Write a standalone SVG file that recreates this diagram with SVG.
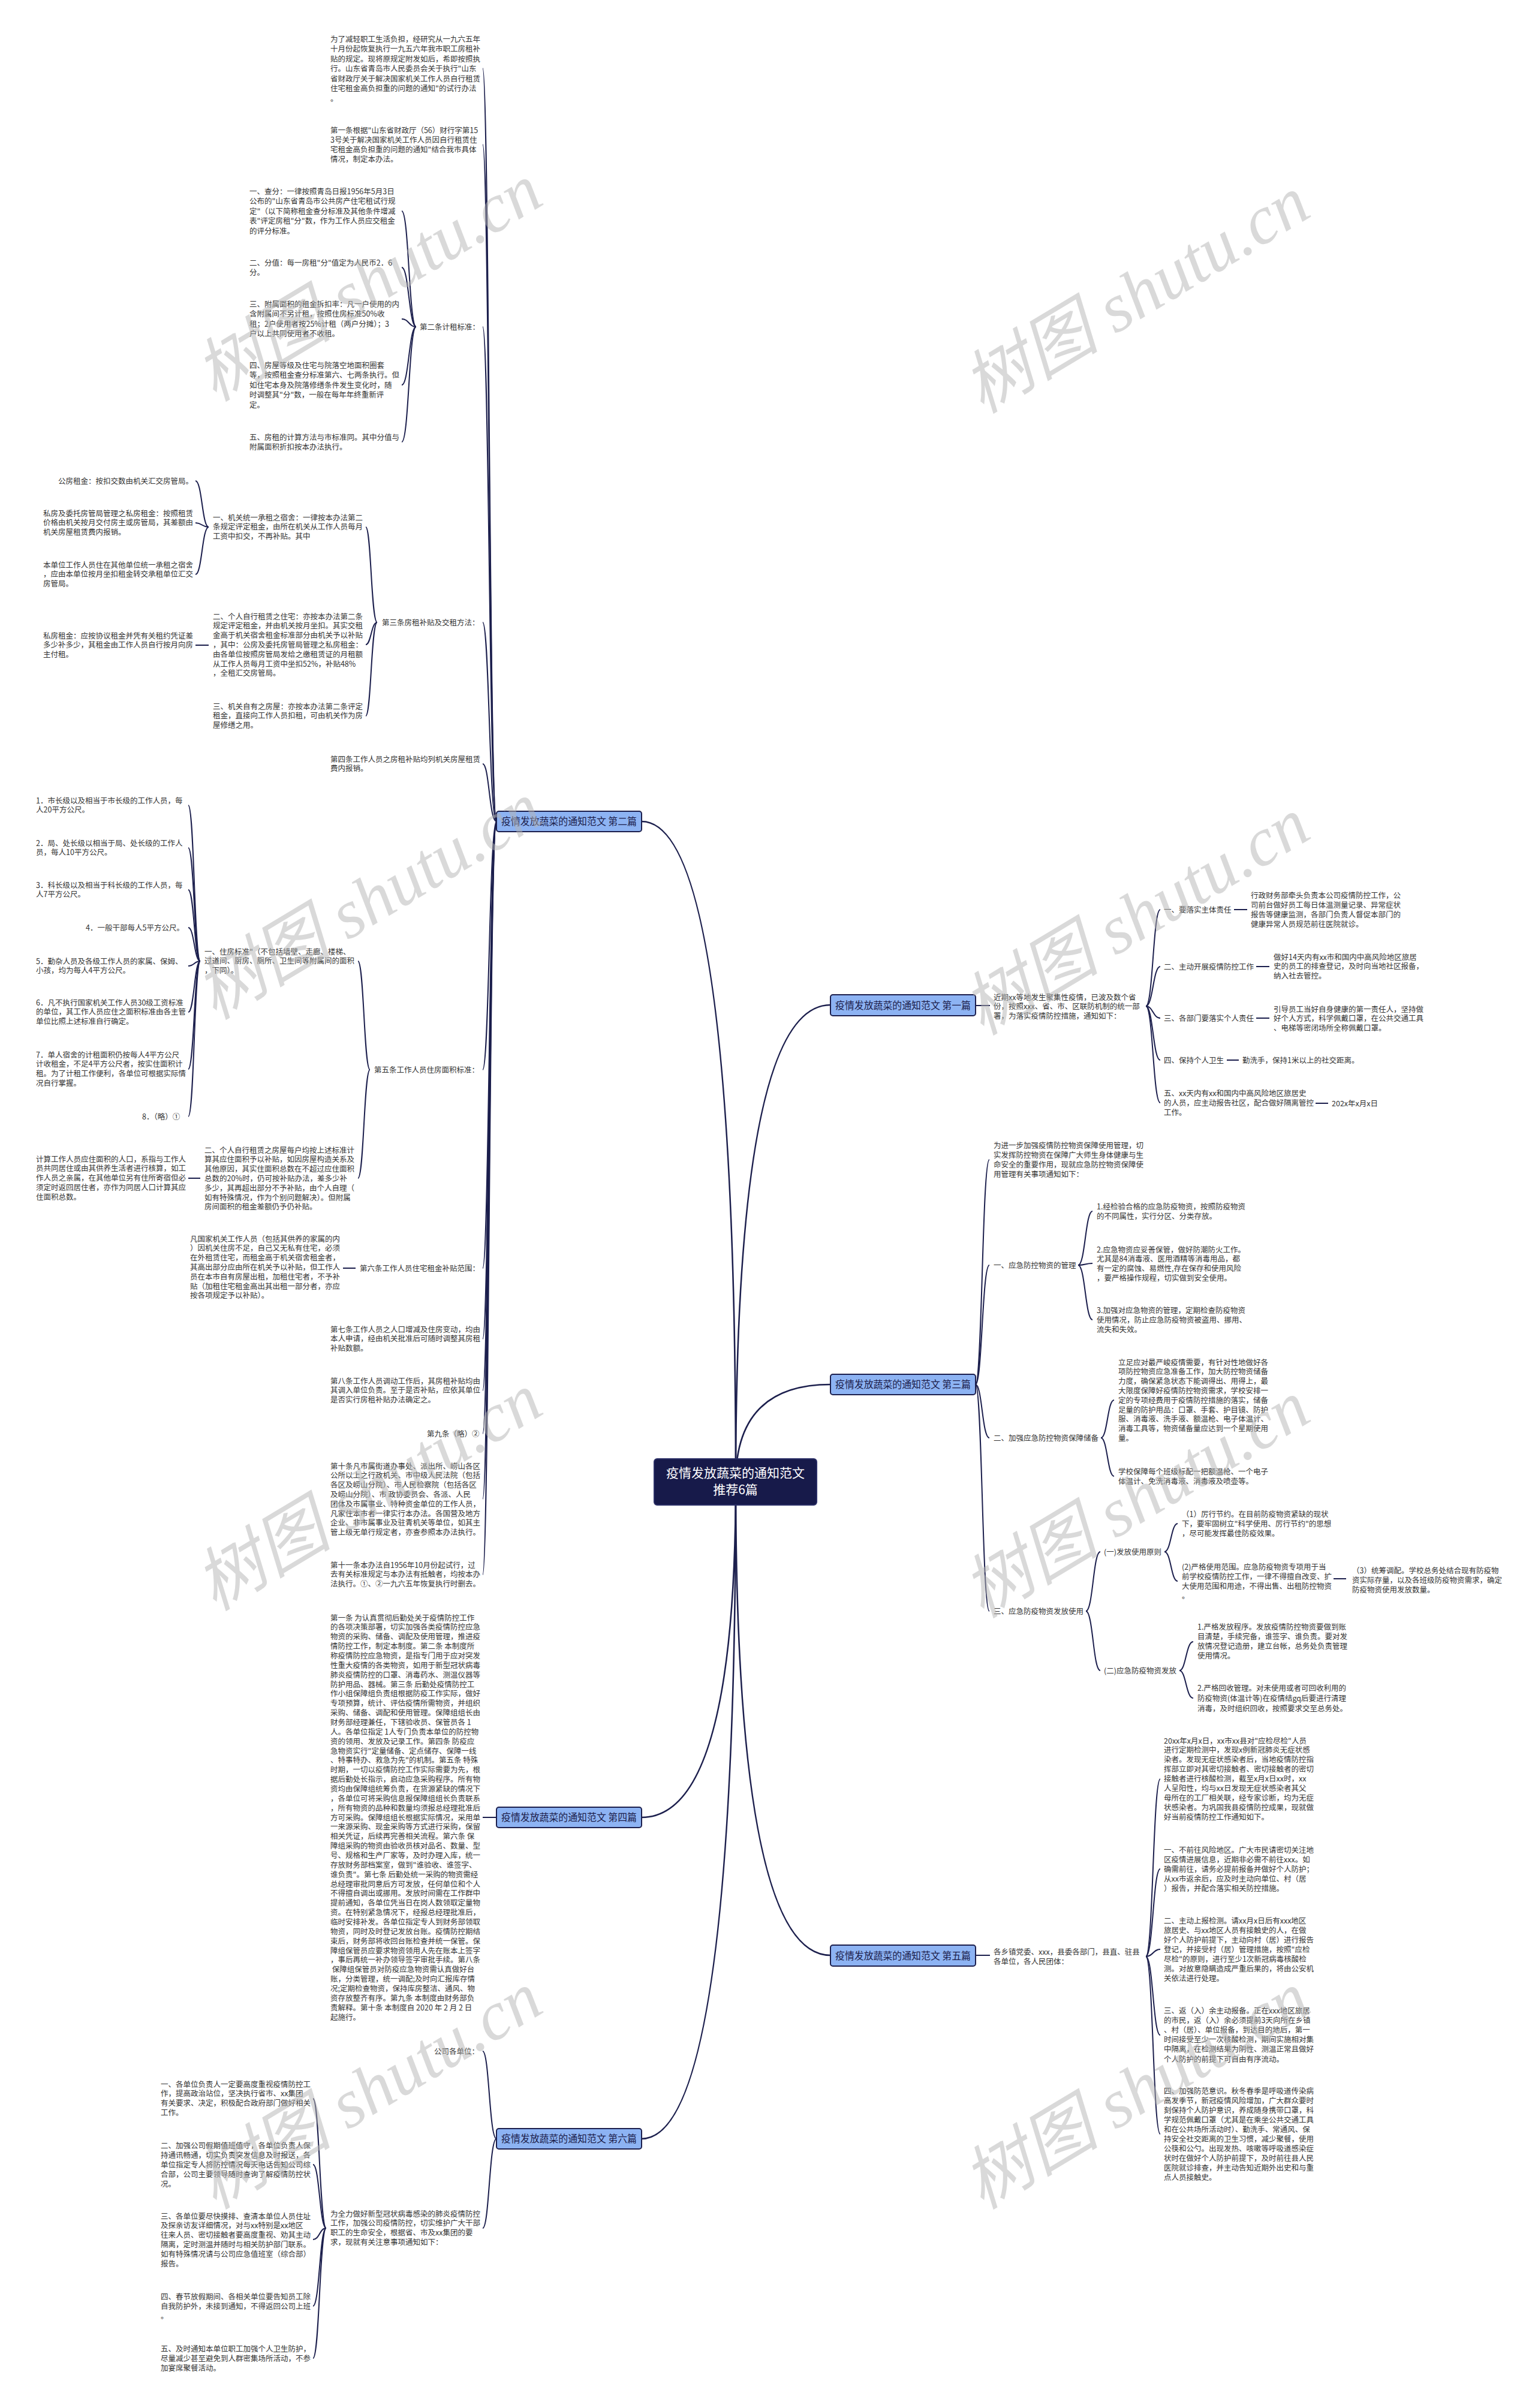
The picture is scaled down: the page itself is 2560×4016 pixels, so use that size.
<svg xmlns="http://www.w3.org/2000/svg" width="2560" height="4016" viewBox="0 0 2560 4016">
<style>
.t{font-family:"Noto Sans CJK SC","Noto Sans",sans-serif;font-size:12.5px;fill:#333}
.b{font-family:"Noto Sans CJK SC","Noto Sans",sans-serif;font-size:16.5px;fill:#1c1d4a}
.c{font-family:"Noto Sans CJK SC","Noto Sans",sans-serif;font-size:21px;fill:#fff;text-anchor:middle}
.bn{fill:#8db3f3;stroke:#1c1f4d;stroke-width:2}
.cn{fill:#171a4a;stroke:#2a2e66;stroke-width:2}
.l{fill:none;stroke:#1c1f4d;stroke-width:2}
.m{fill:none;stroke:#1c1f4d;stroke-width:2.6}
.w{font-family:"Liberation Serif","Noto Sans CJK SC",serif;font-size:115px;font-style:italic;fill:#b4b4b4;fill-opacity:.5}
</style>
<rect x="0" y="0" width="2560" height="4016" fill="#fff"/>

<g id="connectors">
<path class="m" d="M1227,2471 Q1227,1370 1070,1370"/>
<path class="m" d="M1227,2471 Q1227,3031 1070,3031"/>
<path class="m" d="M1227,2471 Q1227,3567 1070,3567"/>
<path class="m" d="M1227,2471 Q1227,1676 1385,1676"/>
<path class="m" d="M1227,2471 Q1227,2309 1385,2309"/>
<path class="m" d="M1227,2471 Q1227,3261 1385,3261"/>
<path class="l" d="M828,1370 C816,1370 816,114 805,114"/>
<path class="l" d="M828,1370 C816,1370 816,241 805,241"/>
<path class="l" d="M828,1370 C816,1370 816,545 805,545"/>
<path class="l" d="M828,1370 C816,1370 816,1038 805,1038"/>
<path class="l" d="M828,1370 C816,1370 816,1274 805,1274"/>
<path class="l" d="M828,1370 C816,1370 816,1784 805,1784"/>
<path class="l" d="M828,1370 C816,1370 816,2115 805,2115"/>
<path class="l" d="M828,1370 C816,1370 816,2233 805,2233"/>
<path class="l" d="M828,1370 C816,1370 816,2319 805,2319"/>
<path class="l" d="M828,1370 C816,1370 816,2391 805,2391"/>
<path class="l" d="M828,1370 C816,1370 816,2500 805,2500"/>
<path class="l" d="M828,1370 C816,1370 816,2626 805,2626"/>
<path class="l" d="M694,545 C682,545 682,352 670,352"/>
<path class="l" d="M694,545 C682,545 682,446 670,446"/>
<path class="l" d="M694,545 C682,545 682,532 670,532"/>
<path class="l" d="M694,545 C682,545 682,642 670,642"/>
<path class="l" d="M694,545 C682,545 682,737 670,737"/>
<path class="l" d="M629,1038 C619,1038 619,879 610,879"/>
<path class="l" d="M629,1038 C619,1038 619,1075 610,1075"/>
<path class="l" d="M629,1038 C619,1038 619,1194 610,1194"/>
<path class="l" d="M348,879 C337,879 337,802 326,802"/>
<path class="l" d="M348,879 C337,879 337,872 326,872"/>
<path class="l" d="M348,879 C337,879 337,958 326,958"/>
<path class="l" d="M348,1076 L326,1076"/>
<path class="l" d="M617,1784 C607,1784 607,1603 597,1603"/>
<path class="l" d="M617,1784 C607,1784 607,1965 597,1965"/>
<path class="l" d="M334,1603 C324,1603 324,1343 314,1343"/>
<path class="l" d="M334,1603 C324,1603 324,1414 314,1414"/>
<path class="l" d="M334,1603 C324,1603 324,1484 314,1484"/>
<path class="l" d="M334,1603 C324,1603 324,1547 314,1547"/>
<path class="l" d="M334,1603 C324,1603 324,1611 314,1611"/>
<path class="l" d="M334,1603 C324,1603 324,1688 314,1688"/>
<path class="l" d="M334,1603 C324,1603 324,1783 314,1783"/>
<path class="l" d="M334,1603 C324,1603 324,1862 314,1862"/>
<path class="l" d="M334,1965 L314,1965"/>
<path class="l" d="M593,2115 L572,2115"/>
<path class="l" d="M828,3031 L805,3031"/>
<path class="l" d="M828,3567 C816,3567 816,3421 805,3421"/>
<path class="l" d="M828,3567 C816,3567 816,3716 805,3716"/>
<path class="l" d="M544,3716 C533,3716 533,3500 522,3500"/>
<path class="l" d="M544,3716 C533,3716 533,3610 522,3610"/>
<path class="l" d="M544,3716 C533,3716 533,3735 522,3735"/>
<path class="l" d="M544,3716 C533,3716 533,3846 522,3846"/>
<path class="l" d="M544,3716 C533,3716 533,3933 522,3933"/>
<path class="l" d="M1627,1677 L1651,1677"/>
<path class="l" d="M1911,1678 C1923,1678 1923,1517 1935,1517"/>
<path class="l" d="M1911,1678 C1923,1678 1923,1612 1935,1612"/>
<path class="l" d="M1911,1678 C1923,1678 1923,1698 1935,1698"/>
<path class="l" d="M1911,1678 C1923,1678 1923,1768 1935,1768"/>
<path class="l" d="M1911,1678 C1923,1678 1923,1839 1935,1839"/>
<path class="l" d="M2058,1517 L2080,1517"/>
<path class="l" d="M2095,1612 L2117,1612"/>
<path class="l" d="M2095,1698 L2117,1698"/>
<path class="l" d="M2046,1768 L2066,1768"/>
<path class="l" d="M2194,1840 L2215,1840"/>
<path class="l" d="M1627,2309 C1638,2309 1638,1934 1650,1934"/>
<path class="l" d="M1627,2309 C1638,2309 1638,2110 1650,2110"/>
<path class="l" d="M1627,2309 C1638,2309 1638,2398 1650,2398"/>
<path class="l" d="M1627,2309 C1638,2309 1638,2687 1650,2687"/>
<path class="l" d="M1798,2110 C1810,2110 1810,2020 1822,2020"/>
<path class="l" d="M1798,2110 C1810,2110 1810,2107 1822,2107"/>
<path class="l" d="M1798,2110 C1810,2110 1810,2201 1822,2201"/>
<path class="l" d="M1836,2398 C1847,2398 1847,2335 1858,2335"/>
<path class="l" d="M1836,2398 C1847,2398 1847,2462 1858,2462"/>
<path class="l" d="M1811,2687 C1823,2687 1823,2588 1835,2588"/>
<path class="l" d="M1811,2687 C1823,2687 1823,2786 1835,2786"/>
<path class="l" d="M1942,2588 C1953,2588 1953,2541 1964,2541"/>
<path class="l" d="M1942,2588 C1953,2588 1953,2637 1964,2637"/>
<path class="l" d="M2224,2633 L2245,2633"/>
<path class="l" d="M1967,2786 C1978,2786 1978,2738 1990,2738"/>
<path class="l" d="M1967,2786 C1978,2786 1978,2832 1990,2832"/>
<path class="l" d="M1627,3261 L1651,3261"/>
<path class="l" d="M1911,3263 C1923,3263 1923,2967 1935,2967"/>
<path class="l" d="M1911,3263 C1923,3263 1923,3117 1935,3117"/>
<path class="l" d="M1911,3263 C1923,3263 1923,3251 1935,3251"/>
<path class="l" d="M1911,3263 C1923,3263 1923,3394 1935,3394"/>
<path class="l" d="M1911,3263 C1923,3263 1923,3559 1935,3559"/>
</g>

<g id="center">
<rect class="cn" x="1091" y="2433" width="271" height="77" rx="5"/>
<text class="c" x="1226.5" y="2464">疫情发放蔬菜的通知范文</text>
<text class="c" x="1226.5" y="2492">推荐6篇</text>
</g>

<g id="branch2"><rect class="bn" x="828" y="1353" width="242" height="34" rx="4"/><text class="b" x="836" y="1376" textLength="226" lengthAdjust="spacingAndGlyphs">疫情发放蔬菜的通知范文 第二篇</text></g>
<g id="branch4"><rect class="bn" x="828" y="3014" width="242" height="34" rx="4"/><text class="b" x="836" y="3037" textLength="226" lengthAdjust="spacingAndGlyphs">疫情发放蔬菜的通知范文 第四篇</text></g>
<g id="branch6"><rect class="bn" x="828" y="3550" width="242" height="34" rx="4"/><text class="b" x="836" y="3573" textLength="226" lengthAdjust="spacingAndGlyphs">疫情发放蔬菜的通知范文 第六篇</text></g>
<g id="branch1"><rect class="bn" x="1385" y="1659" width="242" height="35" rx="4"/><text class="b" x="1393" y="1682.5" textLength="226" lengthAdjust="spacingAndGlyphs">疫情发放蔬菜的通知范文 第一篇</text></g>
<g id="branch3"><rect class="bn" x="1385" y="2292" width="242" height="34" rx="4"/><text class="b" x="1393" y="2315" textLength="226" lengthAdjust="spacingAndGlyphs">疫情发放蔬菜的通知范文 第三篇</text></g>
<g id="branch5"><rect class="bn" x="1385" y="3244" width="242" height="35" rx="4"/><text class="b" x="1393" y="3267.5" textLength="226" lengthAdjust="spacingAndGlyphs">疫情发放蔬菜的通知范文 第五篇</text></g>

<g id="b2-intro"><text class="t" x="551" y="69.5"><tspan x="551" dy="0">为了减轻职工生活负担，经研究从一九六五年</tspan><tspan x="551" dy="16.5">十月份起恢复执行一九五六年我市职工房租补</tspan><tspan x="551" dy="16.5">贴的规定。现将原规定附发如后，希即按照执</tspan><tspan x="551" dy="16.5">行。山东省青岛市人民委员会关于执行"山东</tspan><tspan x="551" dy="16.5">省财政厅关于解决国家机关工作人员自行租赁</tspan><tspan x="551" dy="16.5">住宅租金高负担重的问题的通知"的试行办法</tspan><tspan x="551" dy="16.5">。</tspan></text></g>
<g id="b2-art1"><text class="t" x="551" y="221.5"><tspan x="551" dy="0">第一条根据"山东省财政厅（56）财行字第15</tspan><tspan x="551" dy="16.1">3号关于解决国家机关工作人员因自行租赁住</tspan><tspan x="551" dy="16.1">宅租金高负担重的问题的通知"结合我市具体</tspan><tspan x="551" dy="16.1">情况，制定本办法。</tspan></text></g>
<g id="b2-art2"><text class="t" x="700" y="549.5">第二条计租标准：</text></g>
<g id="b2-art2-1"><text class="t" x="416" y="323.5"><tspan x="416" dy="0">一、查分：一律按照青岛日报1956年5月3日</tspan><tspan x="416" dy="16.5">公布的"山东省青岛市公共房产住宅租试行规</tspan><tspan x="416" dy="16.5">定"（以下简称租金查分标准及其他条件增减</tspan><tspan x="416" dy="16.5">表"评定房租"分"数，作为工作人员应交租金</tspan><tspan x="416" dy="16.5">的评分标准。</tspan></text></g>
<g id="b2-art2-2"><text class="t" x="416" y="442.5"><tspan x="416" dy="0">二、分值：每一房租"分"值定为人民币2．6</tspan><tspan x="416" dy="16.5">分。</tspan></text></g>
<g id="b2-art2-3"><text class="t" x="416" y="511.5"><tspan x="416" dy="0">三、附属面积的租金拆扣率：凡一户使用的内</tspan><tspan x="416" dy="16.5">含附属间不另计租，按照住房标准50%收</tspan><tspan x="416" dy="16.5">租；2户使用者按25%计租（两户分摊）；3</tspan><tspan x="416" dy="16.5">户以上共同使用者不收租。</tspan></text></g>
<g id="b2-art2-4"><text class="t" x="416" y="613.5"><tspan x="416" dy="0">四、房屋等级及住宅与院落空地面积圈套</tspan><tspan x="416" dy="16.5">等，按照租金查分标准第六、七两条执行。但</tspan><tspan x="416" dy="16.5">如住宅本身及院落修缮条件发生变化时，随</tspan><tspan x="416" dy="16.5">时调整其"分"数，一般在每年年终重新评</tspan><tspan x="416" dy="16.5">定。</tspan></text></g>
<g id="b2-art2-5"><text class="t" x="416" y="733.5"><tspan x="416" dy="0">五、房租的计算方法与市标准同。其中分值与</tspan><tspan x="416" dy="16.5">附属面积折扣按本办法执行。</tspan></text></g>

<g id="b2-art3"><text class="t" x="637" y="1042.5">第三条房租补贴及交租方法：</text></g>
<g id="b2-art3-1"><text class="t" x="355" y="867.5"><tspan x="355" dy="0">一、机关统一承租之宿舍：一律按本办法第二</tspan><tspan x="355" dy="15.8">条规定评定租金，由所在机关从工作人员每月</tspan><tspan x="355" dy="15.8">工资中扣交，不再补贴。其中</tspan></text></g>
<g id="b2-art3-1a"><text class="t" x="97" y="806.5">公房租金：按扣交数由机关汇交房管局。</text></g>
<g id="b2-art3-1b"><text class="t" x="72" y="860.5"><tspan x="72" dy="0">私房及委托房管局管理之私房租金：按照租赁</tspan><tspan x="72" dy="15.8">价格由机关按月交付房主或房管局，其差额由</tspan><tspan x="72" dy="15.8">机关房屋租赁费内报销。</tspan></text></g>
<g id="b2-art3-1c"><text class="t" x="72" y="946.5"><tspan x="72" dy="0">本单位工作人员住在其他单位统一承租之宿舍</tspan><tspan x="72" dy="15.8">，应由本单位按月坐扣租金转交承租单位汇交</tspan><tspan x="72" dy="15.8">房管局。</tspan></text></g>
<g id="b2-art3-2"><text class="t" x="355" y="1032.5"><tspan x="355" dy="0">二、个人自行租赁之住宅：亦按本办法第二条</tspan><tspan x="355" dy="15.8">规定评定租金，并由机关按月坐扣。其实交租</tspan><tspan x="355" dy="15.8">金高于机关宿舍租金标准部分由机关予以补贴</tspan><tspan x="355" dy="15.8">，其中：公房及委托房管局管理之私房租金：</tspan><tspan x="355" dy="15.8">由各单位按照房管局发给之缴租赁证的月租额</tspan><tspan x="355" dy="15.8">从工作人员每月工资中坐扣52%，补贴48%</tspan><tspan x="355" dy="15.8">，全租汇交房管局。</tspan></text></g>
<g id="b2-art3-2a"><text class="t" x="72" y="1064.5"><tspan x="72" dy="0">私房租金：应按协议租金并凭有关租约凭证差</tspan><tspan x="72" dy="15.8">多少补多少，其租金由工作人员自行按月向房</tspan><tspan x="72" dy="15.8">主付租。</tspan></text></g>
<g id="b2-art3-3"><text class="t" x="355" y="1182.5"><tspan x="355" dy="0">三、机关自有之房屋：亦按本办法第二条评定</tspan><tspan x="355" dy="15.8">租金，直接向工作人员扣租，可由机关作为房</tspan><tspan x="355" dy="15.8">屋修缮之用。</tspan></text></g>
<g id="b2-art4"><text class="t" x="551" y="1270.5"><tspan x="551" dy="0">第四条工作人员之房租补贴均列机关房屋租赁</tspan><tspan x="551" dy="15.8">费内报销。</tspan></text></g>

<g id="b2-art5"><text class="t" x="624" y="1788.5">第五条工作人员住房面积标准：</text></g>
<g id="b2-art5-1"><text class="t" x="341" y="1591.5"><tspan x="341" dy="0">一、住房标准"（不包括墙壁、走廊、楼梯、</tspan><tspan x="341" dy="15.8">过道间、厨房、厕所、卫生间等附属间的面积</tspan><tspan x="341" dy="15.8">，下同）。</tspan></text></g>
<g id="b2-art5-1-1"><text class="t" x="60" y="1339.5"><tspan x="60" dy="0">1．市长级以及相当于市长级的工作人员，每</tspan><tspan x="60" dy="15.8">人20平方公尺。</tspan></text></g>
<g id="b2-art5-1-2"><text class="t" x="60" y="1410.5"><tspan x="60" dy="0">2．局、处长级以相当于局、处长级的工作人</tspan><tspan x="60" dy="15.8">员，每人10平方公尺。</tspan></text></g>
<g id="b2-art5-1-3"><text class="t" x="60" y="1480.5"><tspan x="60" dy="0">3．科长级以及相当于科长级的工作人员，每</tspan><tspan x="60" dy="15.8">人7平方公尺。</tspan></text></g>
<g id="b2-art5-1-4"><text class="t" x="143" y="1551.5">4．一般干部每人5平方公尺。</text></g>
<g id="b2-art5-1-5"><text class="t" x="60" y="1607.5"><tspan x="60" dy="0">5．勤杂人员及各级工作人员的家属、保姆、</tspan><tspan x="60" dy="15.8">小孩，均为每人4平方公尺。</tspan></text></g>
<g id="b2-art5-1-6"><text class="t" x="60" y="1676.5"><tspan x="60" dy="0">6．凡不执行国家机关工作人员30级工资标准</tspan><tspan x="60" dy="15.8">的单位，其工作人员应住之面积标准由各主管</tspan><tspan x="60" dy="15.8">单位比照上述标准自行确定。</tspan></text></g>
<g id="b2-art5-1-7"><text class="t" x="60" y="1763.5"><tspan x="60" dy="0">7．单人宿舍的计租面积仍按每人4平方公尺</tspan><tspan x="60" dy="15.8">计收租金，不足4平方公尺者，按实住面积计</tspan><tspan x="60" dy="15.8">租。为了计租工作便利，各单位可根据实际情</tspan><tspan x="60" dy="15.8">况自行掌握。</tspan></text></g>
<g id="b2-art5-1-8"><text class="t" x="237" y="1866.5">8．（略）①</text></g>
<g id="b2-art5-2"><text class="t" x="341" y="1922.5"><tspan x="341" dy="0">二、个人自行租赁之房屋每户均按上述标准计</tspan><tspan x="341" dy="15.8">算其应住面积予以补贴，如因房屋构造关系及</tspan><tspan x="341" dy="15.8">其他原因，其实住面积总数在不超过应住面积</tspan><tspan x="341" dy="15.8">总数的20%时，仍可按补贴办法，差多少补</tspan><tspan x="341" dy="15.8">多少，其再超出部分不予补贴，由个人自理（</tspan><tspan x="341" dy="15.8">如有特殊情况，作为个别问题解决）。但附属</tspan><tspan x="341" dy="15.8">房间面积的租金差额仍予仍补贴。</tspan></text></g>
<g id="b2-art5-2a"><text class="t" x="60" y="1937.5"><tspan x="60" dy="0">计算工作人员应住面积的人口，系指与工作人</tspan><tspan x="60" dy="15.8">员共同居住或由其供养生活者进行核算，如工</tspan><tspan x="60" dy="15.8">作人员之亲属，在其他单位另有住所寄宿但必</tspan><tspan x="60" dy="15.8">须定时返回居住者，亦作为同居人口计算其应</tspan><tspan x="60" dy="15.8">住面积总数。</tspan></text></g>
<g id="b2-art6"><text class="t" x="600" y="2119.5">第六条工作人员住宅租金补贴范围：</text></g>
<g id="b2-art6-1"><text class="t" x="317" y="2070.5"><tspan x="317" dy="0">凡国家机关工作人员（包括其供养的家属的内</tspan><tspan x="317" dy="15.8">）因机关住房不足，自己又无私有住宅，必须</tspan><tspan x="317" dy="15.8">在外租赁住宅，而租金高于机关宿舍租金者，</tspan><tspan x="317" dy="15.8">其高出部分应由所在机关予以补贴，但工作人</tspan><tspan x="317" dy="15.8">员在本市自有房屋出租，加租住宅者，不予补</tspan><tspan x="317" dy="15.8">贴（加租住宅租金高出其出租一部分者，亦应</tspan><tspan x="317" dy="15.8">按各项规定予以补贴）。</tspan></text></g>
<g id="b2-art7"><text class="t" x="551" y="2221.5"><tspan x="551" dy="0">第七条工作人员之人口增减及住房变动，均由</tspan><tspan x="551" dy="15.8">本人申请，经由机关批准后可随时调整其房租</tspan><tspan x="551" dy="15.8">补贴数额。</tspan></text></g>
<g id="b2-art8"><text class="t" x="551" y="2307.5"><tspan x="551" dy="0">第八条工作人员调动工作后，其房租补贴均由</tspan><tspan x="551" dy="15.8">其调入单位负责。至于是否补贴，应依其单位</tspan><tspan x="551" dy="15.8">是否实行房租补贴办法确定之。</tspan></text></g>
<g id="b2-art9"><text class="t" x="712" y="2395.5">第九条（略）②</text></g>
<g id="b2-art10"><text class="t" x="551" y="2449.5"><tspan x="551" dy="0">第十条凡市属街道办事处、派出所、崂山各区</tspan><tspan x="551" dy="15.8">公所以上之行政机关、市中级人民法院（包括</tspan><tspan x="551" dy="15.8">各区及崂山分院）、市人民检察院（包括各区</tspan><tspan x="551" dy="15.8">及崂山分院）、市 政协委员会、各派、人民</tspan><tspan x="551" dy="15.8">团体及市属事业、特种资金单位的工作人员，</tspan><tspan x="551" dy="15.8">凡家住本市者一律实行本办法。各国营及地方</tspan><tspan x="551" dy="15.8">企业、非市属事业及驻青机关等单位，如其主</tspan><tspan x="551" dy="15.8">管上级无单行规定者，亦查参照本办法执行。</tspan></text></g>
<g id="b2-art11"><text class="t" x="551" y="2614.5"><tspan x="551" dy="0">第十一条本办法自1956年10月份起试行，过</tspan><tspan x="551" dy="15.8">去有关标准规定与本办法有抵触者，均按本办</tspan><tspan x="551" dy="15.8">法执行。①、②一九六五年恢复执行时删去。</tspan></text></g>

<g id="b4-text"><text class="t" x="551" y="2702.5"><tspan x="551" dy="0">第一条 为认真贯彻后勤处关于疫情防控工作</tspan><tspan x="551" dy="15.86">的各项决策部署，切实加强各类疫情防控应急</tspan><tspan x="551" dy="15.86">物资的采购、储备、调配及使用管理，推进疫</tspan><tspan x="551" dy="15.86">情防控工作，制定本制度。第二条 本制度所</tspan><tspan x="551" dy="15.86">称疫情防控应急物资，是指专门用于应对突发</tspan><tspan x="551" dy="15.86">性重大疫情的各类物资，如用于新型冠状病毒</tspan><tspan x="551" dy="15.86">肺炎疫情防控的口罩、消毒药水、测温仪器等</tspan><tspan x="551" dy="15.86">防护用品、器械。第三条 后勤处疫情防控工</tspan><tspan x="551" dy="15.86">作小组保障组负责组根据防疫工作实际，做好</tspan><tspan x="551" dy="15.86">专项预算，统计、评估疫情所需物资，并组织</tspan><tspan x="551" dy="15.86">采购、储备、调配和使用管理。保障组组长由</tspan><tspan x="551" dy="15.86">财务部经理兼任，下辖验收员、保管员各 1</tspan><tspan x="551" dy="15.86">人。各单位指定 1人专门负责本单位的防控物</tspan><tspan x="551" dy="15.86">资的领用、发放及记录工作。第四条 防疫应</tspan><tspan x="551" dy="15.86">急物资实行"定量储备、定点储存、保障一线</tspan><tspan x="551" dy="15.86">、特事特办、救急为先"的机制。第五条 特殊</tspan><tspan x="551" dy="15.86">时期，一切以疫情防控工作实际需要为先，根</tspan><tspan x="551" dy="15.86">据后勤处长指示，启动应急采购程序。所有物</tspan><tspan x="551" dy="15.86">资均由保障组统筹负责，在货源紧缺的情况下</tspan><tspan x="551" dy="15.86">，各单位可将采购信息报保障组组长负责联系</tspan><tspan x="551" dy="15.86">，所有物资的品种和数量均须报总经理批准后</tspan><tspan x="551" dy="15.86">方可采购。保障组组长根据实际情况，采用单</tspan><tspan x="551" dy="15.86">一来源采购、现金采购等方式进行采购，保留</tspan><tspan x="551" dy="15.86">相关凭证，后续再完善相关流程。第六条 保</tspan><tspan x="551" dy="15.86">障组采购的物资由验收员核对品名、数量、型</tspan><tspan x="551" dy="15.86">号、规格和生产厂家等，及时办理入库，统一</tspan><tspan x="551" dy="15.86">存放财务部档案室，做到"谁验收、谁签字、</tspan><tspan x="551" dy="15.86">谁负责"。第七条 后勤处统一采购的物资需经</tspan><tspan x="551" dy="15.86">总经理审批同意后方可发放，任何单位和个人</tspan><tspan x="551" dy="15.86">不得擅自调出或挪用。发放时间需在工作群中</tspan><tspan x="551" dy="15.86">提前通知，各单位凭当日在岗人数领取定量物</tspan><tspan x="551" dy="15.86">资。在特别紧急情况下，经报总经理批准后，</tspan><tspan x="551" dy="15.86">临时安排补发。各单位指定专人到财务部领取</tspan><tspan x="551" dy="15.86">物资，同时及时登记发放台账。疫情防控期结</tspan><tspan x="551" dy="15.86">束后，财务部将收回台账检查并统一保管。保</tspan><tspan x="551" dy="15.86">障组保管员应要求物资领用人先在账本上签字</tspan><tspan x="551" dy="15.86">，事后再统一补办领导签字审批手续。第八条</tspan><tspan x="551" dy="15.86"> 保障组保管员对防疫应急物资需认真做好台</tspan><tspan x="551" dy="15.86">账，分类管理，统一调配;及时向汇报库存情</tspan><tspan x="551" dy="15.86">况;定期检查物资，保持库房整洁、通风、物</tspan><tspan x="551" dy="15.86">资存放整齐有序。第九条 本制度由财务部负</tspan><tspan x="551" dy="15.86">责解释。第十条 本制度自 2020 年 2 月 2 日</tspan><tspan x="551" dy="15.86">起施行。</tspan></text></g>

<g id="b6-a"><text class="t" x="724" y="3425.5">公司各单位：</text></g>
<g id="b6-b"><text class="t" x="551" y="3696.5"><tspan x="551" dy="0">为全力做好新型冠状病毒感染的肺炎疫情防控</tspan><tspan x="551" dy="15.8">工作，加强公司疫情防控，切实维护广大干部</tspan><tspan x="551" dy="15.8">职工的生命安全，根据省、市及xx集团的要</tspan><tspan x="551" dy="15.8">求，现就有关注意事项通知如下：</tspan></text></g>
<g id="b6-b1"><text class="t" x="268" y="3480.5"><tspan x="268" dy="0">一、各单位负责人一定要高度重视疫情防控工</tspan><tspan x="268" dy="15.7">作，提高政治站位，坚决执行省市、xx集团</tspan><tspan x="268" dy="15.7">有关要求、决定，积极配合政府部门做好相关</tspan><tspan x="268" dy="15.7">工作。</tspan></text></g>
<g id="b6-b2"><text class="t" x="268" y="3582.5"><tspan x="268" dy="0">二、加强公司假期值班值守，各单位负责人保</tspan><tspan x="268" dy="16">持通讯畅通，切实负责突发信息及时报送，各</tspan><tspan x="268" dy="16">单位指定专人将防控情况每天电话告知公司综</tspan><tspan x="268" dy="16">合部，公司主要领导随时查询了解疫情防控状</tspan><tspan x="268" dy="16">况。</tspan></text></g>
<g id="b6-b3"><text class="t" x="268" y="3700.5"><tspan x="268" dy="0">三、各单位要尽快摸排、查清本单位人员住址</tspan><tspan x="268" dy="15.9">及探亲访友详细情况，对与xx特别是xx地区</tspan><tspan x="268" dy="15.9">往来人员、密切接触者要高度重视、劝其主动</tspan><tspan x="268" dy="15.9">隔离，定时测温并随时与相关防护部门联系。</tspan><tspan x="268" dy="15.9">如有特殊情况请与公司应急值班室（综合部）</tspan><tspan x="268" dy="15.9">报告。</tspan></text></g>
<g id="b6-b4"><text class="t" x="268" y="3834.5"><tspan x="268" dy="0">四、春节放假期间、各相关单位要告知员工除</tspan><tspan x="268" dy="16.3">自我防护外，未接到通知，不得返回公司上班</tspan><tspan x="268" dy="16.3">。</tspan></text></g>
<g id="b6-b5"><text class="t" x="268" y="3921.5"><tspan x="268" dy="0">五、及时通知本单位职工加强个人卫生防护，</tspan><tspan x="268" dy="16.3">尽量减少甚至避免到人群密集场所活动，不参</tspan><tspan x="268" dy="16.3">加宴席聚餐活动。</tspan></text></g>

<g id="b1-a"><text class="t" x="1657" y="1667.5"><tspan x="1657" dy="0">近期xx等地发生聚集性疫情，已波及数个省</tspan><tspan x="1657" dy="15.6">份，按照xxx、省、市、区联防机制的统一部</tspan><tspan x="1657" dy="15.6">署，为落实疫情防控措施，通知如下：</tspan></text></g>
<g id="b1-a1"><text class="t" x="1941" y="1521.5">一、要落实主体责任</text></g>
<g id="b1-a1a"><text class="t" x="2086" y="1497.5"><tspan x="2086" dy="0">行政财务部牵头负责本公司疫情防控工作，公</tspan><tspan x="2086" dy="16">司前台做好员工每日体温测量记录、异常症状</tspan><tspan x="2086" dy="16">报告等健康监测，各部门负责人督促本部门的</tspan><tspan x="2086" dy="16">健康异常人员规范前往医院就诊。</tspan></text></g>
<g id="b1-a2"><text class="t" x="1941" y="1616.5">二、主动开展疫情防控工作</text></g>
<g id="b1-a2a"><text class="t" x="2124" y="1600.5"><tspan x="2124" dy="0">做好14天内有xx市和国内中高风险地区旅居</tspan><tspan x="2124" dy="15.7">史的员工的排查登记，及时向当地社区报备，</tspan><tspan x="2124" dy="15.7">纳入社去管控。</tspan></text></g>
<g id="b1-a3"><text class="t" x="1941" y="1702.5">三、各部门要落实个人责任</text></g>
<g id="b1-a3a"><text class="t" x="2124" y="1687.5"><tspan x="2124" dy="0">引导员工当好自身健康的第一责任人，坚持做</tspan><tspan x="2124" dy="15.7">好个人方式，科学佩戴口罩，在公共交通工具</tspan><tspan x="2124" dy="15.7">、电梯等密闭场所全称佩戴口罩。</tspan></text></g>
<g id="b1-a4"><text class="t" x="1941" y="1772.5">四、保持个人卫生</text></g>
<g id="b1-a4a"><text class="t" x="2072" y="1772.5">勤洗手，保持1米以上的社交距离。</text></g>
<g id="b1-a5"><text class="t" x="1941" y="1827.5"><tspan x="1941" dy="0">五、xx天内有xx和国内中高风险地区旅居史</tspan><tspan x="1941" dy="16">的人员，应主动报告社区，配合做好隔离管控</tspan><tspan x="1941" dy="16">工作。</tspan></text></g>
<g id="b1-a5a"><text class="t" x="2221" y="1844.5">202x年x月x日</text></g>

<g id="b3-a"><text class="t" x="1657" y="1914.5"><tspan x="1657" dy="0">为进一步加强疫情防控物资保障使用管理，切</tspan><tspan x="1657" dy="16">实发挥防控物资在保障广大师生身体健康与生</tspan><tspan x="1657" dy="16">命安全的重要作用，现就应急防控物资保障使</tspan><tspan x="1657" dy="16">用管理有关事项通知如下：</tspan></text></g>
<g id="b3-b"><text class="t" x="1657" y="2114.5">一、应急防控物资的管理</text></g>
<g id="b3-b1"><text class="t" x="1829" y="2016.5"><tspan x="1829" dy="0">1.经检验合格的应急防疫物资，按照防疫物资</tspan><tspan x="1829" dy="16.5">的不同属性，实行分区、分类存放。</tspan></text></g>
<g id="b3-b2"><text class="t" x="1829" y="2088.5"><tspan x="1829" dy="0">2.应急物资应妥善保管，做好防潮防火工作。</tspan><tspan x="1829" dy="15.8">尤其是84消毒液、医用酒精等消毒用品，都</tspan><tspan x="1829" dy="15.8">有一定的腐蚀、易燃性,存在保存和使用风险</tspan><tspan x="1829" dy="15.8">，要严格操作规程，切实做到安全使用。</tspan></text></g>
<g id="b3-b3"><text class="t" x="1829" y="2189.5"><tspan x="1829" dy="0">3.加强对应急物资的管理，定期检查防疫物资</tspan><tspan x="1829" dy="16.3">使用情况，防止应急防疫物资被盗用、挪用、</tspan><tspan x="1829" dy="16.3">流失和失效。</tspan></text></g>
<g id="b3-c"><text class="t" x="1657" y="2402.5">二、加强应急防控物资保障储备</text></g>
<g id="b3-c1"><text class="t" x="1865" y="2276.5"><tspan x="1865" dy="0">立足应对最严峻疫情需要，有针对性地做好各</tspan><tspan x="1865" dy="15.8">项防控物资应急准备工作，加大防控物资储备</tspan><tspan x="1865" dy="15.8">力度，确保紧急状态下能调得出、用得上，最</tspan><tspan x="1865" dy="15.8">大限度保障好疫情防控物资需求，学校安排一</tspan><tspan x="1865" dy="15.8">定的专项经费用于疫情防控措施的落实，储备</tspan><tspan x="1865" dy="15.8">足量的防护用品：口罩、手套、护目镜、防护</tspan><tspan x="1865" dy="15.8">服、消毒液、洗手液、额温枪、电子体温计、</tspan><tspan x="1865" dy="15.8">消毒工具等，物资储备量应达到一个星期使用</tspan><tspan x="1865" dy="15.8">量。</tspan></text></g>
<g id="b3-c2"><text class="t" x="1865" y="2458.5"><tspan x="1865" dy="0">学校保障每个班级标配一把额温枪、一个电子</tspan><tspan x="1865" dy="16">体温计、免洗消毒液、消毒液及喷壶等。</tspan></text></g>
<g id="b3-d"><text class="t" x="1657" y="2691.5">三、应急防疫物资发放使用</text></g>
<g id="b3-d1"><text class="t" x="1841" y="2592.5">(一)发放使用原则</text></g>
<g id="b3-d1a"><text class="t" x="1971" y="2529.5"><tspan x="1971" dy="0">（1）厉行节约。在目前防疫物资紧缺的现状</tspan><tspan x="1971" dy="16">下，要牢固树立"科学使用、厉行节约"的思想</tspan><tspan x="1971" dy="16">，尽可能发挥最佳防疫效果。</tspan></text></g>
<g id="b3-d1b"><text class="t" x="1971" y="2617.5"><tspan x="1971" dy="0">(2)严格使用范围。应急防疫物资专项用于当</tspan><tspan x="1971" dy="16">前学校疫情防控工作，一律不得擅自改变、扩</tspan><tspan x="1971" dy="16">大使用范围和用途，不得出售、出租防控物资</tspan><tspan x="1971" dy="16">。</tspan></text></g>
<g id="b3-d1c"><text class="t" x="2255" y="2623.5"><tspan x="2255" dy="0">（3）统筹调配。学校总务处结合现有防疫物</tspan><tspan x="2255" dy="16">资实际存量，以及各班级防疫物资需求，确定</tspan><tspan x="2255" dy="16">防疫物资使用发放数量。</tspan></text></g>
<g id="b3-d2"><text class="t" x="1841" y="2790.5">(二)应急防疫物资发放</text></g>
<g id="b3-d2a"><text class="t" x="1997" y="2717.5"><tspan x="1997" dy="0">1.严格发放程序。发放疫情防控物资要做到账</tspan><tspan x="1997" dy="16.3">目清楚，手续完备，谁签字、谁负责。要对发</tspan><tspan x="1997" dy="16.3">放情况登记造册，建立台帐，总务处负责管理</tspan><tspan x="1997" dy="16.3">使用情况。</tspan></text></g>
<g id="b3-d2b"><text class="t" x="1997" y="2819.5"><tspan x="1997" dy="0">2.严格回收管理。对未使用或者可回收利用的</tspan><tspan x="1997" dy="17">防疫物资(体温计等)在疫情结gq后要进行清理</tspan><tspan x="1997" dy="17">消毒，及时组织回收，按照要求交至总务处。</tspan></text></g>

<g id="b5-a"><text class="t" x="1657" y="3259.5"><tspan x="1657" dy="0">各乡镇党委、xxx，县委各部门，县直、驻县</tspan><tspan x="1657" dy="16">各单位，各人民团体：</tspan></text></g>
<g id="b5-a0"><text class="t" x="1941" y="2907.5"><tspan x="1941" dy="0">20xx年x月x日，xx市xx县对"应检尽检"人员</tspan><tspan x="1941" dy="15.9">进行定期检测中，发现x例新冠肺炎无症状感</tspan><tspan x="1941" dy="15.9">染者。发现无症状感染者后，当地疫情防控指</tspan><tspan x="1941" dy="15.9">挥部立即对其密切接触者、密切接触者的密切</tspan><tspan x="1941" dy="15.9">接触者进行核酸检测，截至x月x日xx时，xx</tspan><tspan x="1941" dy="15.9">人呈阳性，均与xx日发现无症状感染者其父</tspan><tspan x="1941" dy="15.9">母所在的工厂相关联，经专家诊断，均为无症</tspan><tspan x="1941" dy="15.9">状感染者。为巩固我县疫情防控成果，现就做</tspan><tspan x="1941" dy="15.9">好当前疫情防控工作通知如下。</tspan></text></g>
<g id="b5-a1"><text class="t" x="1941" y="3089.5"><tspan x="1941" dy="0">一、不前往风险地区。广大市民请密切关注地</tspan><tspan x="1941" dy="16">区疫情进展信息，近期非必需不前往xxx。如</tspan><tspan x="1941" dy="16">确需前往，请务必提前报备并做好个人防护；</tspan><tspan x="1941" dy="16">从xx市返余后，应及时主动向单位、村（居</tspan><tspan x="1941" dy="16">）报告，并配合落实相关防控措施。</tspan></text></g>
<g id="b5-a2"><text class="t" x="1941" y="3207.5"><tspan x="1941" dy="0">二、主动上报检测。请xx月x日后有xxx地区</tspan><tspan x="1941" dy="16">旅居史、与xx地区人员有接触史的人，在做</tspan><tspan x="1941" dy="16">好个人防护前提下，主动向村（居）进行报告</tspan><tspan x="1941" dy="16">登记，并接受村（居）管理措施，按照"应检</tspan><tspan x="1941" dy="16">尽检"的原则，进行至少1次新冠病毒核酸检</tspan><tspan x="1941" dy="16">测。对故意隐瞒造成严重后果的，将由公安机</tspan><tspan x="1941" dy="16">关依法进行处理。</tspan></text></g>
<g id="b5-a3"><text class="t" x="1941" y="3357.5"><tspan x="1941" dy="0">三、返（入）余主动报备。正在xxx地区旅居</tspan><tspan x="1941" dy="16.2">的市民，返（入）余必须提前3天向所在乡镇</tspan><tspan x="1941" dy="16.2">、村（居）、单位报备，到达目的地后，第一</tspan><tspan x="1941" dy="16.2">时间接受至少一次核酸检测，期间实施相对集</tspan><tspan x="1941" dy="16.2">中隔离，在检测结果为阴性、测温正常且做好</tspan><tspan x="1941" dy="16.2">个人防护的前提下可自由有序流动。</tspan></text></g>
<g id="b5-a4"><text class="t" x="1941" y="3491.5"><tspan x="1941" dy="0">四、加强防范意识。秋冬春季是呼吸道传染病</tspan><tspan x="1941" dy="16.1">高发季节，新冠疫情风险增加，广大群众要时</tspan><tspan x="1941" dy="16.1">刻保持个人防护意识，养成随身携带口罩，科</tspan><tspan x="1941" dy="16.1">学规范佩戴口罩（尤其是在乘坐公共交通工具</tspan><tspan x="1941" dy="16.1">和在公共场所活动时）、勤洗手、常通风、保</tspan><tspan x="1941" dy="16.1">持安全社交距离的卫生习惯，减少聚餐，使用</tspan><tspan x="1941" dy="16.1">公筷和公勺。出现发热、咳嗽等呼吸道感染症</tspan><tspan x="1941" dy="16.1">状时在做好个人防护前提下，及时前往县人民</tspan><tspan x="1941" dy="16.1">医院就诊排查，并主动告知近期外出史和与重</tspan><tspan x="1941" dy="16.1">点人员接触史。</tspan></text></g>

<g id="watermark">
<text class="w" transform="translate(358,671) rotate(-31)">树图 shutu.cn</text>
<text class="w" transform="translate(358,1702) rotate(-31)">树图 shutu.cn</text>
<text class="w" transform="translate(358,2688) rotate(-31)">树图 shutu.cn</text>
<text class="w" transform="translate(358,3686) rotate(-31)">树图 shutu.cn</text>
<text class="w" transform="translate(1638,691) rotate(-31)">树图 shutu.cn</text>
<text class="w" transform="translate(1638,1728) rotate(-31)">树图 shutu.cn</text>
<text class="w" transform="translate(1638,2700) rotate(-31)">树图 shutu.cn</text>
<text class="w" transform="translate(1638,3686) rotate(-31)">树图 shutu.cn</text>
</g>
</svg>
